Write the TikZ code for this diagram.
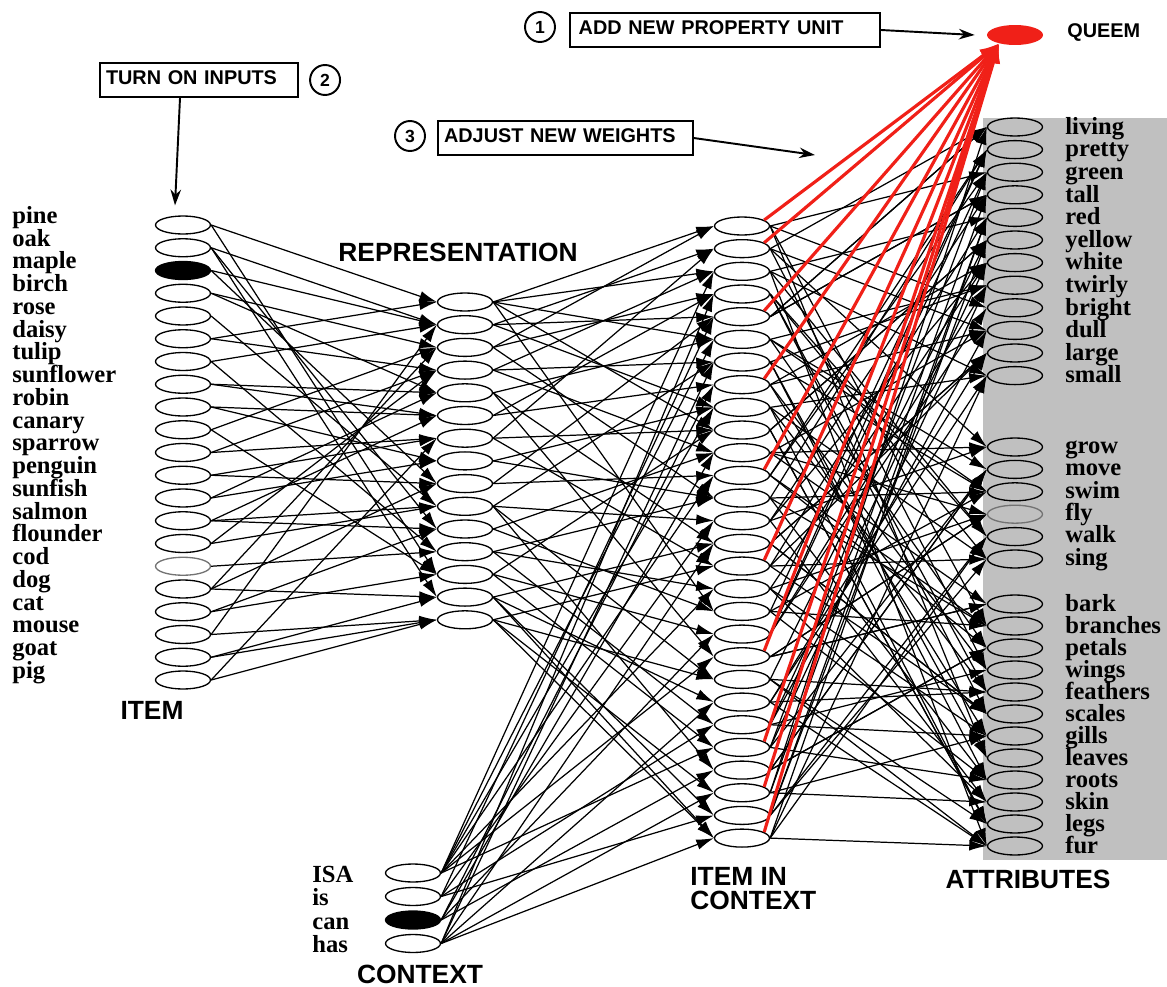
\documentclass[tikz,border=0pt]{standalone}
\usepackage{fontspec}
\setmainfont{Liberation Serif}
\setsansfont{Liberation Sans}
\usetikzlibrary{shapes.geometric, positioning, arrows.meta}
\definecolor{queemred}{RGB}{240,32,24}
\definecolor{attrgray}{RGB}{192,192,192}

\begin{document}
\begin{tikzpicture}[x=0.02cm, y=-0.02cm,
    unit/.style={ellipse, draw, line width=0.75pt, minimum width=1.1cm, minimum height=0.36cm, inner sep=0pt},
    onunit/.style={unit, fill=black},
    dimunit/.style={unit, draw=black!55},
    lbl/.style={font=\bfseries\fontsize{14}{14}\selectfont, anchor=west, inner sep=0pt, text height=0.7em, text depth=0.2em},
    head/.style={font=\sffamily\bfseries\fontsize{15}{13.7}\selectfont, inner sep=0pt},
    callout/.style={rectangle, draw, line width=1.1pt, font=\sffamily\bfseries\fontsize{11.3}{13}\selectfont, minimum height=0.68cm, text height=0.7em, text depth=0.2em, inner xsep=3.5pt, align=left},
    stepnum/.style={circle, draw, line width=1.1pt, minimum size=0.6cm, inner sep=0pt, font=\sffamily\bfseries\fontsize{10}{12}\selectfont},
    callarrow/.style={line width=1.1pt, -{Stealth[length=9pt, width=6pt]}},
    link/.style={line width=0.7pt, -{Latex[length=10pt, width=6pt]}},
    newlink/.style={line width=1.8pt, draw=queemred, -{Latex[length=11pt, width=8pt]}}
]
\useasboundingbox (0,0) rectangle (1167,987);

% attribute background
\fill[attrgray] (983,118) rectangle (1167,860);

% Define units
\foreach \name/\sty [count=\i from 0] in {pine/unit, oak/unit, maple/onunit, birch/unit, rose/unit, daisy/unit, tulip/unit, sunflower/unit, robin/unit, canary/unit, sparrow/unit, penguin/unit, sunfish/unit, salmon/unit, flounder/unit, cod/dimunit, dog/unit, cat/unit, mouse/unit, goat/unit, pig/unit}
{
    \node[\sty] (item-\i) at (183, 225+22.75*\i) {};
    \node[lbl] (itemlbl-\i) at (12, 219+22.75*\i) {\name};
}
\foreach \i in {0,...,14}
    \node[unit] (rep-\i) at (465, 302+22.7*\i) {};
\foreach \i in {0,...,27}
    \node[unit] (iic-\i) at (742, 226+22.67*\i) {};
\foreach \name/\sty [count=\i from 0] in {ISA/unit, is/unit, can/onunit, has/unit}
{
    \node[\sty] (ctx-\i) at (413, 873+23.5*\i) {};
    \node[lbl] (ctxlbl-\i) at (312, 878+23.3*\i) {\name};
}
\foreach \name [count=\i from 0] in {living, pretty, green, tall, red, yellow, white, twirly, bright, dull, large, small}
{
    \node[unit] (att-\i) at (1015, 127+22.6*\i) {};
    \node[lbl] (attlbl-\i) at (1065, 130+22.6*\i) {\name};
}
\foreach \name/\sty [count=\i from 12] in {grow/unit, move/unit, swim/unit, fly/dimunit, walk/unit, sing/unit}
{
    \node[\sty] (att-\i) at (1015, 447+22.4*\i-268.8) {};
    \node[lbl] (attlbl-\i) at (1065, 449+22.4*\i-268.8) {\name};
}
\foreach \name [count=\i from 18] in {bark, branches, petals, wings, feathers, scales, gills, leaves, roots, skin, legs, fur}
{
    \node[unit] (att-\i) at (1015, 604+22*\i-396) {};
    \node[lbl] (attlbl-\i) at (1065, 607+22*\i-396) {\name};
}
\node[ellipse, fill=queemred, minimum width=1.12cm, minimum height=0.4cm, inner sep=0pt] (queem) at (1015,35) {};
\node[head, font=\sffamily\bfseries\fontsize{11.3}{13}\selectfont, anchor=west] (queemlbl) at (1067,33) {QUEEM};

% layer names
\node[head] (itemhead) at (152,710) {ITEM};
\node[head] (rephead) at (458,252) {REPRESENTATION};
\node[head, anchor=north west, align=left] (iichead) at (690,867) {ITEM IN\\CONTEXT};
\node[head] (atthead) at (1028,879) {ATTRIBUTES};
\node[head] (ctxhead) at (420,974) {CONTEXT};

% steps
\node[stepnum] (num1) at (540,27) {1};
\node[callout, inner xsep=5pt, text width=5.85cm, right=0.26cm of num1, yshift=-0.06cm] (addbox) {ADD NEW PROPERTY UNIT};
\node[callout, text width=3.72cm] (turnbox) at (199,80) {TURN ON INPUTS};
\node[stepnum, right=0.2cm of turnbox] (num2) {2};
\node[stepnum] (num3) at (410,136) {3};
\node[callout, text width=4.85cm, right=0.22cm of num3, yshift=-0.04cm] (adjbox) {ADJUST NEW WEIGHTS};
\coordinate (adjtip) at (815,155);

% Define arrows
\foreach \s/\t in {0/0, 0/12, 1/1, 1/10, 1/13, 2/1, 2/8, 3/2, 3/4, 4/9, 5/0, 5/3, 6/1, 6/11, 7/4, 7/5, 8/5, 8/7, 9/2, 9/12, 10/3, 10/6, 11/8, 11/6, 12/7, 12/4, 13/9, 13/5, 13/10, 14/9, 14/3, 15/11, 16/2, 16/8, 16/13, 17/12, 17/10, 18/14, 18/1, 19/14, 19/13, 20/6, 20/14}
    \draw[link] (item-\s.east) -- (rep-\t.west);
\foreach \s/\t in {0/0, 0/2, 0/5, 0/9, 0/17, 1/1, 1/4, 1/8, 2/3, 2/0, 2/12, 3/6, 3/2, 3/10, 4/5, 4/14, 4/19, 5/7, 5/3, 6/9, 6/15, 6/1, 7/8, 7/12, 8/11, 8/4, 9/13, 9/6, 9/20, 9/24, 10/10, 10/17, 11/12, 11/16, 11/22, 12/18, 12/9, 12/23, 13/21, 13/14, 13/26, 13/27, 14/20, 14/25, 14/27, 14/15}
    \draw[link] (rep-\s.east) -- (iic-\t.west);
\foreach \s/\t in {0/2, 0/5, 0/8, 0/11, 0/16, 0/19, 0/23, 1/4, 1/13, 1/22, 1/26, 2/7, 2/10, 2/18, 2/24, 3/3, 3/6, 3/14, 3/21, 3/25, 3/27}
    \draw[link] (ctx-\s.east) -- (iic-\t.west);
\foreach \i in {0,...,27}
{
    \pgfmathtruncatemacro\ta{mod(7*\i+2,30)}
    \pgfmathtruncatemacro\tb{mod(11*\i+19,30)}
    \pgfmathtruncatemacro\tc{mod(13*\i+8,30)}
    \pgfmathtruncatemacro\td{mod(17*\i+25,30)}
    \draw[link] (iic-\i.east) -- (att-\ta.west);
    \draw[link] (iic-\i.east) -- (att-\tb.west);
    \draw[link] (iic-\i.east) -- (att-\tc.west);
    \draw[link] (iic-\i.east) -- (att-\td.west);
}
\foreach \i in {0,1,4,7,11,15,19,23,25,27}
    \draw[newlink] (iic-\i.15) -- (queem.208);

\draw[callarrow] (addbox.east) -- ([xshift=-0.24cm]queem.west);
\draw[callarrow] ([xshift=-0.38cm]turnbox.south) -- ([xshift=-0.16cm, yshift=0.2cm]item-0.north);
\draw[callarrow] (adjbox.east) -- (adjtip);
\end{tikzpicture}
\end{document}
